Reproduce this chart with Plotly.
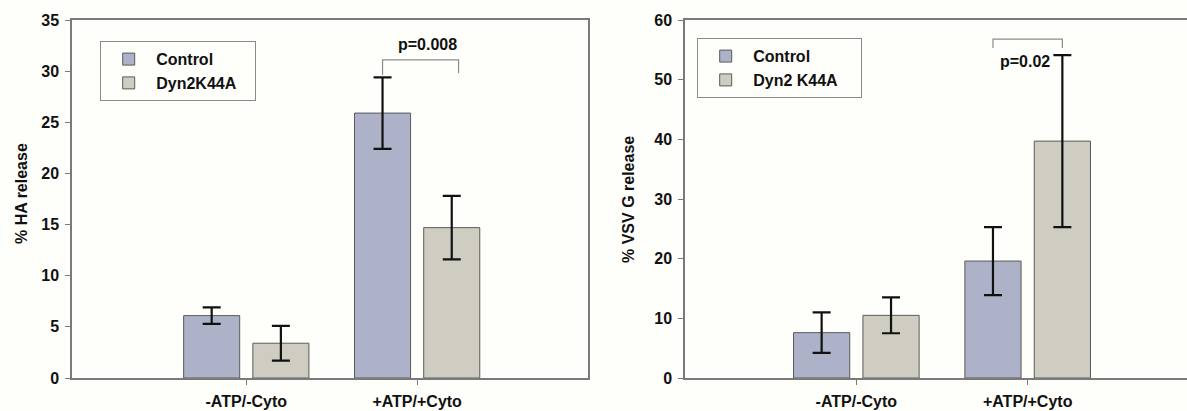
import plotly.graph_objects as go

# ---- data ----
categories = ["-ATP/-Cyto", "+ATP/+Cyto"]

ha_control = [6.1, 25.9]
ha_control_err = [0.8, 3.5]
ha_dyn = [3.4, 14.7]
ha_dyn_err = [1.7, 3.1]

vsv_control = [7.6, 19.6]
vsv_control_err = [3.4, 5.7]
vsv_dyn = [10.5, 39.7]
vsv_dyn_err = [3.0, 14.4]

left_names = ["Control", "Dyn2K44A"]
right_names = ["Control", "Dyn2 K44A"]

left_yticks = [0, 5, 10, 15, 20, 25, 30, 35]
right_yticks = [0, 10, 20, 30, 40, 50, 60]

p_left = "p=0.008"
p_right = "p=0.02"

# ---- style ----
C_CTRL = "#aeb2c8"
C_DYN = "#cfcdc2"
BG = "#fefefa"
AX = "#7a7a7a"
FONT = dict(family="Liberation Sans, Arial, sans-serif", size=16, color="#111111", weight="bold")
NB = "\u00a0"  # non-breaking space used to widen legend box

fig = go.Figure()

def add_bars(xa, ya, ctrl, ctrl_err, dyn, dyn_err, names, legend, pad):
    fig.add_trace(go.Bar(
        x=categories, y=ctrl, name=names[0], xaxis=xa, yaxis=ya, legend=legend,
        offsetgroup="a",
        marker=dict(color=C_CTRL, line=dict(color="#5a5a5a", width=1)),
        error_y=dict(type="data", array=ctrl_err, color="#111111", thickness=2.2, width=9),
    ))
    fig.add_trace(go.Bar(
        x=categories, y=dyn, name=names[1] + NB * pad, xaxis=xa, yaxis=ya, legend=legend,
        offsetgroup="b",
        marker=dict(color=C_DYN, line=dict(color="#5a5a5a", width=1)),
        error_y=dict(type="data", array=dyn_err, color="#111111", thickness=2.2, width=9),
    ))

add_bars("x", "y", ha_control, ha_control_err, ha_dyn, ha_dyn_err, left_names, "legend", 3)
add_bars("x2", "y2", vsv_control, vsv_control_err, vsv_dyn, vsv_dyn_err, right_names, "legend2", 4)

W, H = 1187, 411
ydom = [(H - 378) / H, (H - 20) / H]

common_x = dict(type="category", showline=True, linecolor=AX, linewidth=1.5, ticks="outside",
                ticklen=5, tickcolor=AX, tickwidth=1.2, tickfont=FONT, showgrid=False,
                zeroline=False, ticklabelstandoff=3, automargin=False)
common_y = dict(showline=True, linecolor=AX, linewidth=1.5, ticks="outside", ticklen=5,
                tickcolor=AX, tickwidth=1.2, tickfont=FONT, showgrid=False, zeroline=False,
                ticklabelstandoff=3, automargin=False)

LEG = dict(xanchor="left", yanchor="top", bgcolor=BG, bordercolor="#8a8a8a", borderwidth=1.2,
           font=FONT, itemwidth=45, tracegroupgap=0, itemclick=False)

fig.update_layout(
    width=W, height=H,
    margin=dict(l=0, r=0, t=0, b=0, autoexpand=False),
    paper_bgcolor=BG, plot_bgcolor=BG,
    barmode="group", bargap=0.19, bargroupgap=0.19,
    font=FONT,
    xaxis=dict(common_x, domain=[72 / W, 588 / W], range=[-1.02, 2.0], mirror=True, anchor="y"),
    yaxis=dict(common_y, domain=ydom, range=[0, 35], tickvals=left_yticks, mirror=True, anchor="x"),
    xaxis2=dict(common_x, domain=[685 / W, 1.0], range=[-1.0, 1.93], mirror=True, anchor="y2"),
    yaxis2=dict(common_y, domain=ydom, range=[0, 60], tickvals=right_yticks, mirror=False, anchor="x2"),
    legend=dict(LEG, x=100 / W, y=1 - 41 / H),
    legend2=dict(LEG, x=697 / W, y=1 - 38 / H),
    showlegend=True,
)

# axis titles
fig.add_annotation(text="% HA release", xref="paper", yref="paper", x=21 / W, y=1 - 194 / H,
                   textangle=-90, showarrow=False, font=FONT, xanchor="center", yanchor="middle")
fig.add_annotation(text="% VSV G release", xref="paper", yref="paper", x=628 / W, y=1 - 200 / H,
                   textangle=-90, showarrow=False, font=FONT, xanchor="center", yanchor="middle")

# significance brackets (positions relative to group center, in axis units)
half = 0.2025
BR = dict(color="#8c8c8c", width=1.2)

fig.add_shape(type="path", xref="x", yref="y",
              path=f"M {1 - half},29.6 L {1 - half},31.1 L {1 + half + 0.04},31.1 L {1 + half + 0.04},29.8",
              line=BR)
fig.add_annotation(text=p_left, xref="x", yref="y", x=1.06, y=32.6, showarrow=False,
                   font=FONT, xanchor="center", yanchor="middle")

fig.add_shape(type="path", xref="x2", yref="y2",
              path=f"M {1 - half},55.3 L {1 - half},56.8 L {1 + half},56.8 L {1 + half},55.3",
              line=BR)
fig.add_annotation(text=p_right, xref="x2", yref="y2", x=0.985, y=53.1, showarrow=False,
                   font=FONT, xanchor="center", yanchor="middle")

fig.write_html(
    "out.html",
    config={"displayModeBar": False},
    post_script="document.body.style.margin='0';document.body.style.overflow='hidden';",
)
